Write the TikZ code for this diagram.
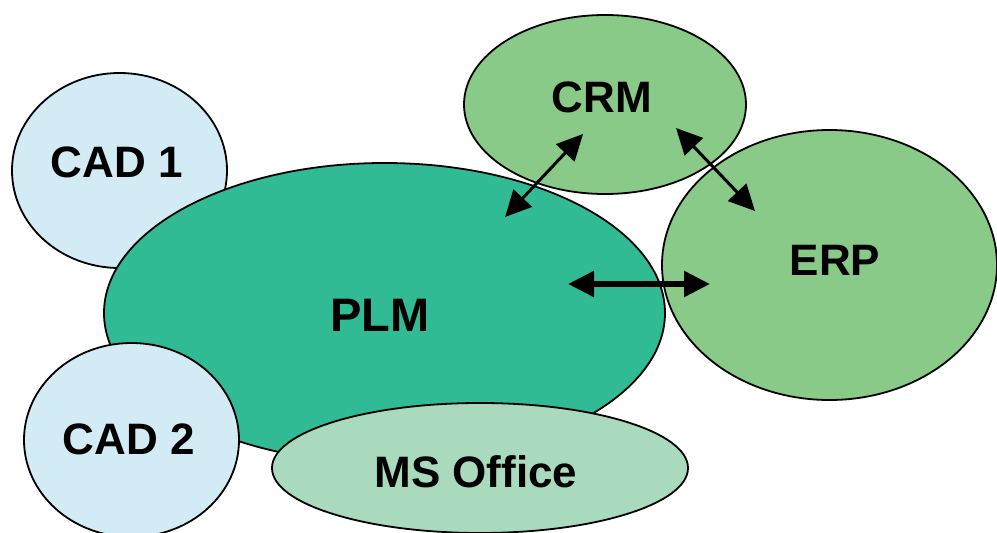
\documentclass[tikz,border=0pt]{standalone}
\usepackage{fontspec}
\setmainfont{Liberation Sans}
\usepackage{xcolor}
\usepackage{tikz}
\definecolor{cadblue}{HTML}{D3EBF4}
\definecolor{plmteal}{HTML}{31BB95}
\definecolor{sysgreen}{HTML}{89CA89}
\definecolor{officegreen}{HTML}{A9DABD}
\usetikzlibrary{shapes.geometric, arrows.meta, calc}

\begin{document}
\begin{tikzpicture}[
    x=1pt, y=-1pt,
    blob/.style={ellipse, draw, line width=1.8pt, inner sep=0pt},
    lbl/.style={font=\fontsize{44}{50}\selectfont\bfseries},
    cad/.style={blob, fill=cadblue},
    plm/.style={blob, fill=plmteal},
    sys/.style={blob, fill=sysgreen},
    office/.style={blob, fill=officegreen},
    link/.style={{Triangle[length=26pt,width=25pt]}-{Triangle[length=26pt,width=25pt]}, line width=3pt},
    fatlink/.style={link, line width=5.5pt},
]
\useasboundingbox (0,0) rectangle (997,533);
\node[cad, minimum width=215pt, minimum height=195pt,
      label={[lbl, xshift=-2.5pt, yshift=8.5pt]center:CAD 1}] (cad1) at (119.5,170.5) {};
\node[plm, minimum width=561pt, minimum height=300pt,
      label={[lbl, font=\fontsize{47}{54}\selectfont\bfseries, xshift=-4.5pt, yshift=-2pt]center:PLM}] (plm) at (384.5,313) {};
\node[cad, minimum width=215pt, minimum height=194pt,
      label={[lbl, xshift=-2.5pt, yshift=1pt]center:CAD 2}] (cad2) at (131.5,440) {};
\node[office, minimum width=416pt, minimum height=130pt,
      label={[lbl, xshift=-4pt, yshift=-4pt]center:MS Office}] (office) at (480,468) {};
\node[sys, minimum width=282pt, minimum height=179pt,
      label={[lbl, xshift=-3pt, yshift=7pt]center:CRM}] (crm) at (605,104.5) {};
\node[sys, minimum width=335pt, minimum height=270pt,
      label={[lbl, xshift=5.5pt, yshift=5pt]center:ERP}] (erp) at (829.5,265) {};

% arrow ends inside the ellipses
\coordinate (crm-a) at ($(crm)+(-22,29.5)$);
\coordinate (plm-a) at ($(plm)+(120.5,-96)$);
\coordinate (crm-b) at ($(crm)+(71,23.5)$);
\coordinate (erp-b) at ($(erp)+(-74.5,-54)$);
\coordinate (plm-c) at ($(plm)+(183.5,-29)$);
\coordinate (erp-c) at ($(erp)+(-119.5,19)$);

\draw[link] (crm-a) -- (plm-a);
\draw[link] (crm-b) -- (erp-b);
\draw[fatlink] (plm-c) -- (erp-c);
\end{tikzpicture}
\end{document}
